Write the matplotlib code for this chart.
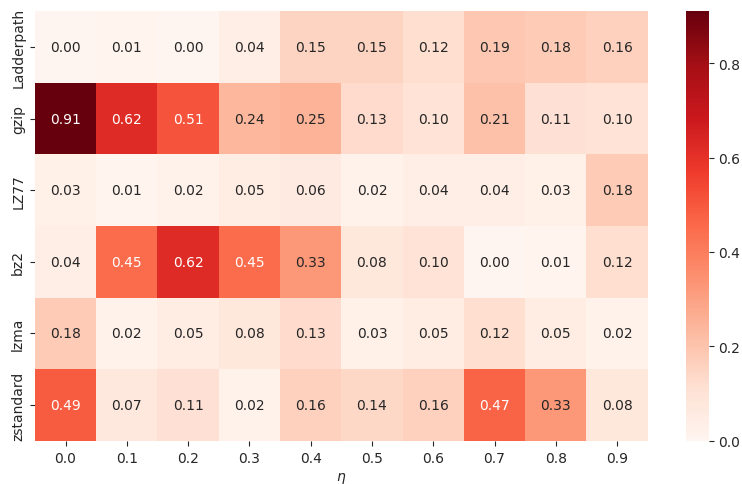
import numpy as np
import matplotlib
matplotlib.use("Agg")
import matplotlib.pyplot as plt
import seaborn as sns

methods = ["Ladderpath", "gzip", "LZ77", "bz2", "lzma", "zstandard"]
etas = ["0.0", "0.1", "0.2", "0.3", "0.4", "0.5", "0.6", "0.7", "0.8", "0.9"]

ladderpath = [0.00, 0.01, 0.00, 0.04, 0.15, 0.15, 0.12, 0.19, 0.18, 0.16]
gzip = [0.91, 0.62, 0.51, 0.24, 0.25, 0.13, 0.10, 0.21, 0.11, 0.10]
lz77 = [0.03, 0.01, 0.02, 0.05, 0.06, 0.02, 0.04, 0.04, 0.03, 0.18]
bz2 = [0.04, 0.45, 0.62, 0.45, 0.33, 0.08, 0.10, 0.00, 0.01, 0.12]
lzma = [0.18, 0.02, 0.05, 0.08, 0.13, 0.03, 0.05, 0.12, 0.05, 0.02]
zstandard = [0.49, 0.07, 0.11, 0.02, 0.16, 0.14, 0.16, 0.47, 0.33, 0.08]

vals = np.array([ladderpath, gzip, lz77, bz2, lzma, zstandard])

sns.set_style("ticks")

fig = plt.figure(figsize=(7.42, 4.85), dpi=100)
ax = fig.add_axes([0.047, 0.089, 0.826, 0.886])
cax = fig.add_axes([0.925, 0.089, 0.030, 0.886])

sns.heatmap(vals, ax=ax, cbar_ax=cax, cmap="Reds", annot=True, fmt=".2f",
            xticklabels=etas, yticklabels=methods, annot_kws={"size": 10})
ax.set_xlabel(r"$\eta$")
ax.set_yticklabels(methods, rotation=90, va="center")

fig.savefig("out.png", dpi=100)
